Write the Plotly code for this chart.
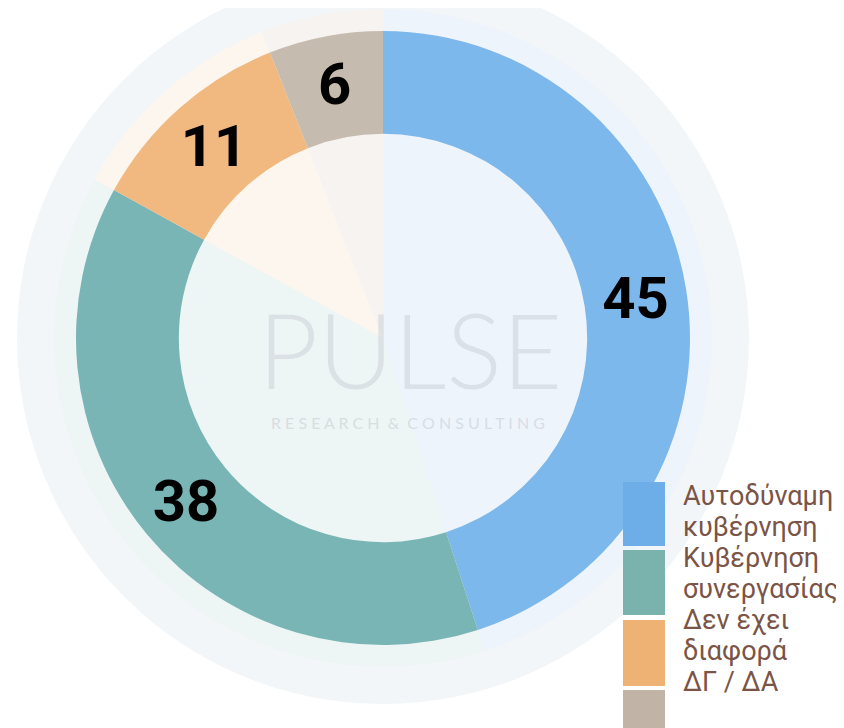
import plotly.graph_objects as go

# ---- data ----
categories = ["Αυτοδύναμη κυβέρνηση", "Κυβέρνηση συνεργασίας", "Δεν έχει διαφορά", "ΔΓ / ΔΑ"]
legend_lines = [["Αυτοδύναμη", "κυβέρνηση"], ["Κυβέρνηση", "συνεργασίας"], ["Δεν έχει", "διαφορά"], ["ΔΓ / ΔΑ"]]
values = [45, 38, 11, 6]

ring_colors = ["#7db8ec", "#7ab5b5", "#f1b880", "#c6bbaf"]
pale_colors = ["#eef4fc", "#eef5f5", "#fdf6ee", "#f6f3f0"]
legend_colors = ["#6daee9", "#7ab3ae", "#efb275", "#c1b3a5"]

W, H = 844, 728
OFF = 8  # page body margin offset


def px_x(x):
    return (x - OFF) / W


def px_y(y):
    return 1 - (y - OFF) / H


fig = go.Figure()

cx, cy = 383, 338

# pale background pie
rb = 329
fig.add_trace(go.Pie(
    labels=categories, values=values, sort=False, direction="clockwise", rotation=0,
    marker=dict(colors=pale_colors, line=dict(width=0)),
    textinfo="none", hoverinfo="skip", showlegend=False,
    domain=dict(x=[px_x(cx - rb), px_x(cx + rb)], y=[px_y(cy + rb), px_y(cy - rb)]),
))

# main donut
r = 307
fig.add_trace(go.Pie(
    labels=categories, values=values, sort=False, direction="clockwise", rotation=0,
    hole=0.665,
    marker=dict(colors=ring_colors, line=dict(width=0)),
    texttemplate="%{value}", textposition="inside", insidetextorientation="horizontal",
    textfont=dict(family="Roboto", size=58, color="#000000", weight="bold"),
    hoverinfo="label+value", showlegend=False,
    domain=dict(x=[px_x(cx - r), px_x(cx + r)], y=[px_y(cy + r), px_y(cy - r)]),
))

shapes = [
    dict(type="circle", xref="paper", yref="paper", layer="below",
         x0=px_x(cx - 366), x1=px_x(cx + 366), y0=px_y(cy + 366), y1=px_y(cy - 366),
         fillcolor="#f3f6f8", line=dict(width=0)),
]
annotations = [
    dict(text="PULSE", x=px_x(410), y=px_y(348), xref="paper", yref="paper", showarrow=False,
         font=dict(family="Lato", size=104, color="rgba(200,205,212,0.5)", weight=300)),
    dict(text="R E S E A R C H  &  C O N S U L T I N G", x=px_x(408), y=px_y(422), xref="paper", yref="paper",
         showarrow=False, font=dict(family="Lato", size=16, color="rgba(200,205,212,0.6)")),
]

# custom legend
sq_x0, sq_x1 = 623, 665
tops = [482, 550, 620, 690]
heights = [64, 65, 66, 60]
for col, t, h in zip(legend_colors, tops, heights):
    shapes.append(dict(type="rect", xref="paper", yref="paper",
                       x0=px_x(sq_x0), x1=px_x(sq_x1), y0=px_y(t + h), y1=px_y(t),
                       fillcolor=col, line=dict(width=0)))

k = 0
for lines in legend_lines:
    for line in lines:
        baseline = 505 + 31 * k
        annotations.append(dict(text=line, x=px_x(681), y=px_y(baseline - 9), xref="paper", yref="paper",
                                xanchor="left", yanchor="middle", align="left", showarrow=False,
                                font=dict(family="Roboto", size=27, color="#7a5446")))
        k += 1

fig.update_layout(
    width=W, height=H,
    margin=dict(l=0, r=0, t=0, b=0),
    paper_bgcolor="#ffffff", plot_bgcolor="#ffffff",
    shapes=shapes, annotations=annotations,
    showlegend=False,
)

fig.write_html("out.html")
